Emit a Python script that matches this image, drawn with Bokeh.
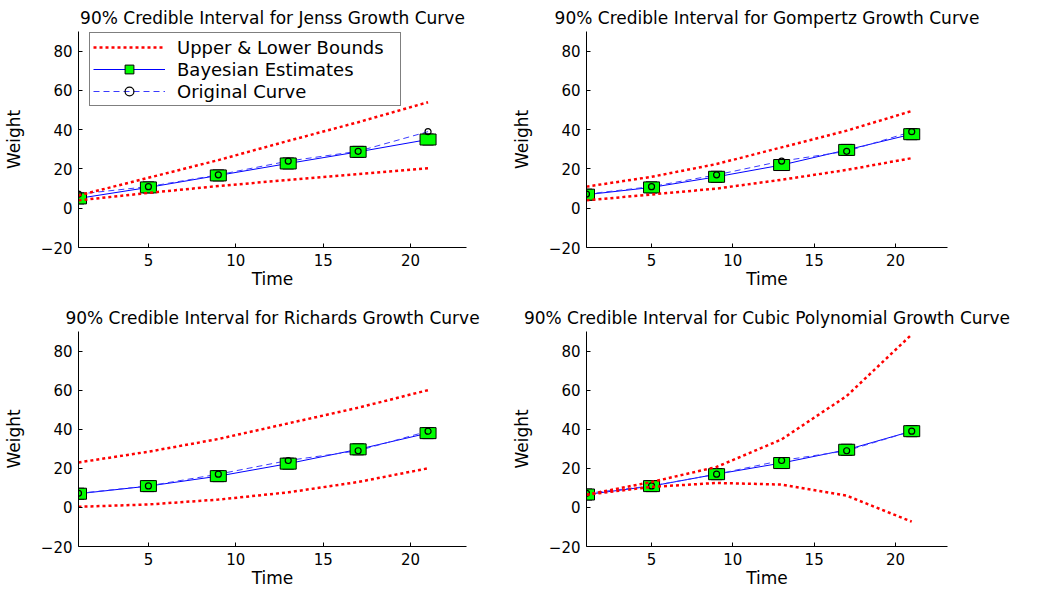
from bokeh.plotting import figure
from bokeh.models import Range1d, FixedTicker, Legend, LegendItem
from bokeh.layouts import column, row
from bokeh.embed import file_html
from bokeh.resources import INLINE

# ---- data ----
time = [1, 5, 9, 13, 17, 21]
original = [7.2, 11.0, 17.0, 24.0, 29.0, 39.0]

jenss_est = [5.0, 10.6, 16.7, 22.8, 28.7, 35.0]
jenss_upper = [6.5, 15.5, 24.5, 34.3, 43.8, 54.0]
jenss_lower = [4.0, 7.8, 11.3, 14.4, 17.4, 20.4]

gompertz_est = [6.9, 10.6, 16.0, 22.0, 29.7, 37.7]
gompertz_upper = [11.0, 16.0, 22.5, 31.0, 39.5, 49.5]
gompertz_lower = [4.0, 7.0, 10.0, 14.5, 19.5, 25.5]

richards_est = [7.0, 10.9, 16.0, 22.4, 29.7, 38.0]
richards_upper = [23.0, 28.5, 35.0, 43.0, 51.0, 60.0]
richards_lower = [0.3, 1.5, 4.0, 7.7, 13.0, 20.0]

cubic_est = [6.6, 10.9, 17.0, 22.7, 29.5, 39.0]
cubic_upper = [6.5, 13.0, 20.7, 34.8, 57.0, 88.5]
cubic_lower = [6.5, 10.5, 12.5, 11.7, 6.0, -7.3]

titles = [
    "90% Credible Interval for Jenss Growth Curve",
    "90% Credible Interval for Gompertz Growth Curve",
    "90% Credible Interval for Richards Growth Curve",
    "90% Credible Interval for Cubic Polynomial Growth Curve",
]
x_ticks = [5, 10, 15, 20]
y_ticks = [-20, 0, 20, 40, 60, 80]
legend_labels = ["Upper & Lower Bounds", "Bayesian Estimates", "Original Curve"]

FONT = "DejaVu Sans"


def make_panel(title, est, upper, lower, width, height, left, right, top, bottom, legend=False):
    p = figure(width=width, height=height, x_range=Range1d(1, 23.2), y_range=Range1d(-20, 90),
               output_backend="svg", toolbar_location=None, title=title,
               min_border_left=left, min_border_right=right,
               min_border_top=top, min_border_bottom=bottom)
    p.outline_line_color = None
    p.grid.visible = False
    p.background_fill_color = "white"
    p.border_fill_color = "white"

    p.title.text_font = FONT
    p.title.text_font_size = "17px"
    p.title.text_font_style = "normal"
    p.title.align = "center"
    p.title.standoff = 8
    p.title.text_color = "black"

    for ax, ticks in ((p.xaxis[0], x_ticks), (p.yaxis[0], y_ticks)):
        ax.ticker = FixedTicker(ticks=ticks)
        ax.minor_tick_line_color = None
        ax.major_tick_in = 4
        ax.major_tick_out = 0
        ax.major_tick_line_color = "black"
        ax.axis_line_color = "black"
        ax.major_label_text_font = FONT
        ax.major_label_text_font_size = "15px"
        ax.major_label_text_color = "black"
        ax.axis_label_text_font = FONT
        ax.axis_label_text_font_size = "17px"
        ax.axis_label_text_font_style = "normal"
        ax.axis_label_text_color = "black"
    p.xaxis.axis_label = "Time"
    p.yaxis.axis_label = "Weight"
    p.xaxis.major_label_standoff = 6
    p.xaxis.axis_label_standoff = 0
    p.yaxis.major_label_standoff = 6
    p.yaxis.axis_label_standoff = 14

    est_line = p.line(time, est, line_color="#0000ff", line_width=1)
    orig_line = p.line(time, original, line_color="#3b3bff", line_width=1, line_dash="6 4")
    est_marker = p.scatter(time, est, marker="square", size=11, fill_color="#00ff00",
                           line_color="black", line_width=1)
    p.rect(time, est, width=16, height=11, width_units="screen", height_units="screen",
           fill_color="#00ff00", line_color="black", line_width=1)
    orig_marker = p.scatter(time, original, marker="circle", size=6, fill_color=None,
                            line_color="black", line_width=1.2)
    up = p.line(time, upper, line_color="#ff0000", line_width=2.5, line_dash="3 3")
    p.line(time, lower, line_color="#ff0000", line_width=2.5, line_dash="3 3")

    if legend:
        lg = Legend(items=[
            LegendItem(label=legend_labels[0], renderers=[up]),
            LegendItem(label=legend_labels[1], renderers=[est_line, est_marker]),
            LegendItem(label=legend_labels[2], renderers=[orig_line, orig_marker]),
        ], location=(11, 141))
        lg.label_text_font = FONT
        lg.label_text_font_size = "18px"
        lg.label_text_color = "black"
        lg.glyph_width = 72
        lg.glyph_height = 22
        lg.label_height = 20
        lg.label_width = 220
        lg.spacing = -3
        lg.padding = 3
        lg.margin = 0
        lg.label_standoff = 12
        lg.border_line_color = "black"
        lg.border_line_width = 1.5
        lg.background_fill_color = "white"
        lg.background_fill_alpha = 1
        p.add_layout(lg)
    return p


p1 = make_panel(titles[0], jenss_est, jenss_upper, jenss_lower, 508, 295, 77, 42, 31, 48, legend=True)
p2 = make_panel(titles[1], gompertz_est, gompertz_upper, gompertz_lower, 550, 295, 75, 111, 31, 48)
p3 = make_panel(titles[2], richards_est, richards_upper, richards_lower, 508, 295, 77, 42, 36, 43)
p4 = make_panel(titles[3], cubic_est, cubic_upper, cubic_lower, 550, 295, 75, 111, 36, 43)

layout = column(row(p1, p2), row(p3, p4))

with open("out.html", "w") as f:
    f.write(file_html(layout, INLINE))
